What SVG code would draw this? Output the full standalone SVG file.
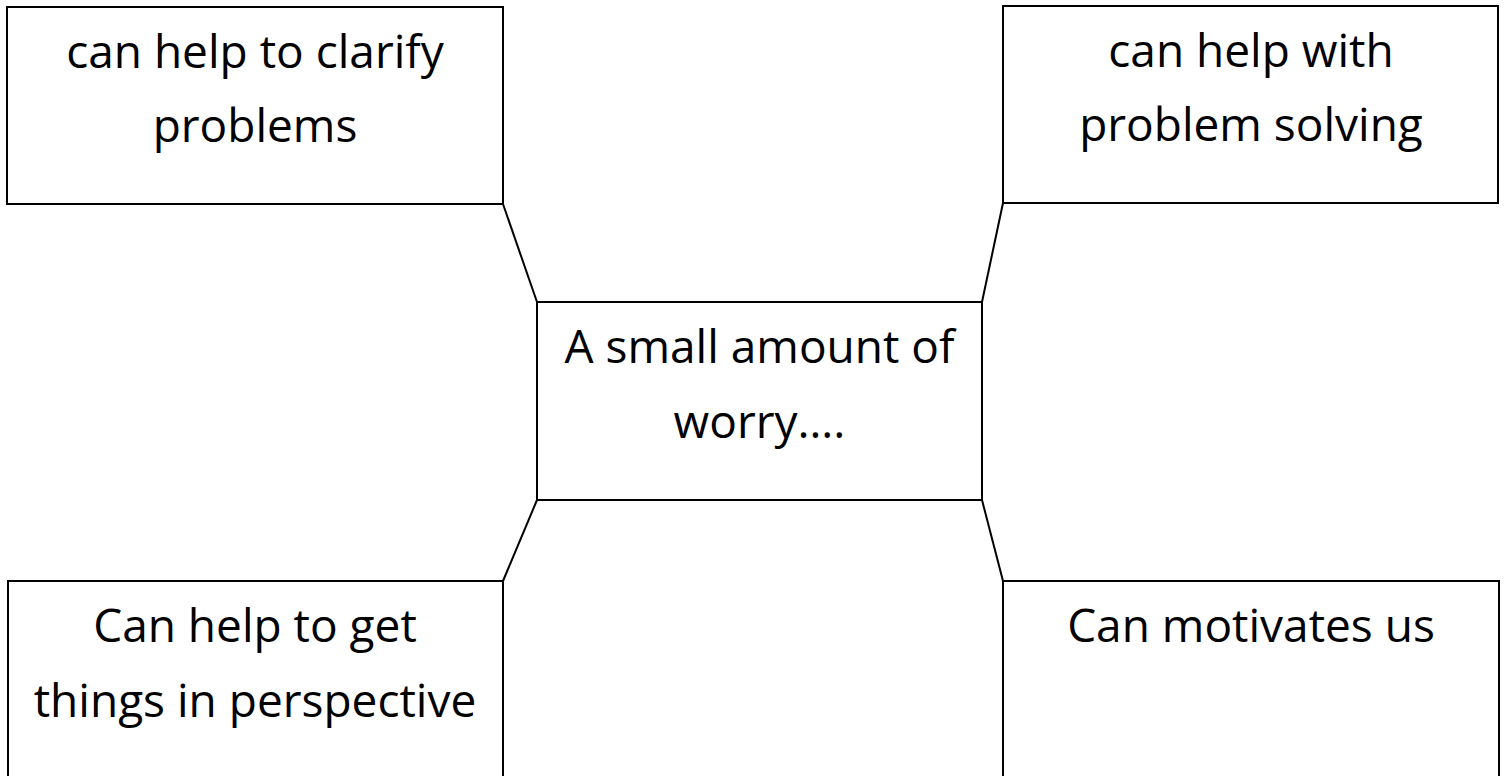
<svg xmlns="http://www.w3.org/2000/svg" width="1504" height="776" viewBox="0 0 1504 776">
<style>
.box{fill:#fff;stroke:#000;stroke-width:2}
.conn{fill:none;stroke:#000;stroke-width:2}
text{font-family:"Open Sans","Noto Sans",sans-serif;font-size:46px;fill:#000;text-anchor:middle}
</style>
<rect width="1504" height="776" fill="#fff"/>
<g id="connectors">
<line class="conn" x1="503" y1="204" x2="537" y2="302"/>
<line class="conn" x1="1003" y1="203" x2="982" y2="302"/>
<line class="conn" x1="537" y1="500" x2="503" y2="581"/>
<line class="conn" x1="982" y1="500" x2="1003" y2="581"/>
</g>
<g id="node-clarify">
<rect class="box" x="7" y="7" width="496" height="197"/>
<text x="255" y="68">can help to clarify</text>
<text x="255" y="142">problems</text>
</g>
<g id="node-solving">
<rect class="box" x="1003" y="6" width="495" height="197"/>
<text x="1251" y="67">can help with</text>
<text x="1251" y="141">problem solving</text>
</g>
<g id="node-center">
<rect class="box" x="537" y="302" width="445" height="198"/>
<text x="759.5" y="363">A small amount of</text>
<text x="759.5" y="438">worry….</text>
</g>
<g id="node-perspective">
<rect class="box" x="8" y="581" width="495" height="210"/>
<text x="255" y="642">Can help to get</text>
<text x="255" y="717">things in perspective</text>
</g>
<g id="node-motivates">
<rect class="box" x="1003" y="581" width="496" height="210"/>
<text x="1251" y="642">Can motivates us</text>
</g>
</svg>
